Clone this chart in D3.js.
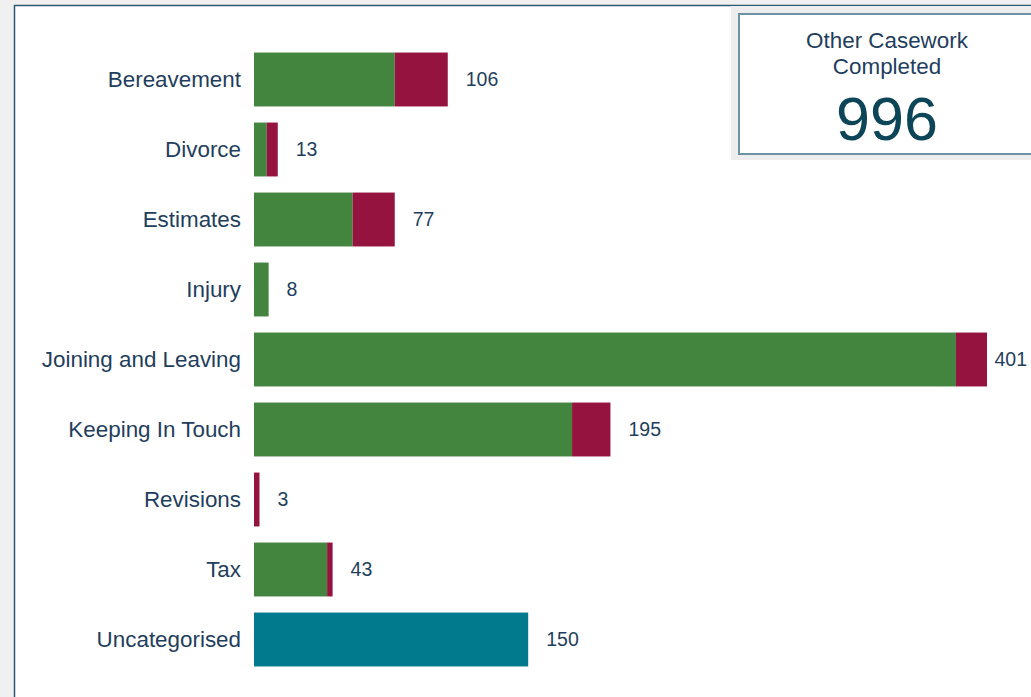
<!DOCTYPE html>
<html lang="en">
<head>
  <meta charset="UTF-8">
  <script src="https://cdn.jsdelivr.net/npm/d3@7"></script>
  <title>Other Casework</title>
  <style>
    body { margin: 0; background: #f0f0f0; }
    svg { display: block; font-family: "Liberation Sans", Arial, sans-serif; }
  </style>
</head>
<body>
  <svg width="1031" height="697"></svg>
  <script>
    var categories = ["Bereavement", "Divorce", "Estimates", "Injury", "Joining and Leaving",
      "Keeping In Touch", "Revisions", "Tax", "Uncategorised"];
    var completedOnTime = [77, 7, 54, 8, 384, 174, 0, 40, 0];
    var completedLate = [29, 6, 23, 0, 17, 21, 3, 3, 0];
    var uncategorised = [0, 0, 0, 0, 0, 0, 0, 0, 150];
    var kpiTitle = ["Other Casework", "Completed"];

    var colors = ["#43843f", "#95133f", "#007a8c"];
    var svg = d3.select("svg");
    var W = +svg.attr("width");

    // panel with left / top border
    svg.append("rect").attr("x", 15).attr("y", 6).attr("width", 1016).attr("height", 691).attr("fill", "#fff");
    svg.append("line").attr("x1", 14.5).attr("x2", 14.5).attr("y1", 5).attr("y2", 697)
      .attr("stroke", "#2d5a72").attr("stroke-width", 1.5);
    svg.append("line").attr("x1", 14).attr("x2", 1031).attr("y1", 5.5).attr("y2", 5.5)
      .attr("stroke", "#2d5a72").attr("stroke-width", 1.5);

    var rows = categories.map((c, i) => ({
      cat: c, a: completedOnTime[i], b: completedLate[i], c: uncategorised[i],
      total: completedOnTime[i] + completedLate[i] + uncategorised[i]
    }));
    var stack = d3.stack().keys(["a", "b", "c"])(rows);

    var x = d3.scaleLinear().domain([0, 401]).range([254, 987]);
    var y = d3.scaleBand().domain(categories).range([44.5, 674.5]).paddingInner(0.23).paddingOuter(0.115);

    var g = svg.append("g");
    g.selectAll(".layer").data(stack).enter().append("g")
      .attr("fill", (d, i) => colors[i])
      .selectAll("rect").data(d => d).enter().append("rect")
      .attr("x", d => x(d[0]))
      .attr("y", d => y(d.data.cat))
      .attr("width", d => x(d[1]) - x(d[0]))
      .attr("height", y.bandwidth());

    var yAxis = d3.axisLeft(y).tickSize(0).tickPadding(13);
    var ax = g.append("g").attr("transform", "translate(254,0)").call(yAxis);
    ax.select(".domain").remove();
    ax.selectAll("text").attr("font-size", 22.4).attr("fill", "#1f3e5d")
      .attr("font-family", "'Liberation Sans', Arial, sans-serif");

    // value labels, pulled in when they would run off the edge
    g.selectAll(".val").data(rows).enter().append("text")
      .attr("y", d => y(d.cat) + y.bandwidth() / 2)
      .attr("dy", "0.35em")
      .attr("font-size", 19.5)
      .attr("fill", "#1f3e5d")
      .text(d => d.total)
      .attr("x", function (d) {
        var w = this.getComputedTextLength();
        return Math.min(x(d.total) + 18, W - w - 4);
      });

    // KPI card
    var total = d3.sum(rows, d => d.total);
    svg.append("rect").attr("x", 731).attr("y", 6).attr("width", 300).attr("height", 154).attr("fill", "#eeeeee");
    svg.append("rect").attr("x", 739).attr("y", 14).attr("width", 300).attr("height", 140)
      .attr("fill", "#fff").attr("stroke", "#6b93a3").attr("stroke-width", 2);
    svg.selectAll(".kt").data(kpiTitle).enter().append("text")
      .attr("x", 887).attr("y", (d, i) => 48 + i * 26)
      .attr("text-anchor", "middle").attr("font-size", 22.4).attr("fill", "#1f3e5d")
      .text(d => d);
    svg.append("text").attr("x", 887).attr("y", 140)
      .attr("text-anchor", "middle").attr("font-size", 61).attr("fill", "#0c4557")
      .text(total);
  </script>
</body>
</html>
